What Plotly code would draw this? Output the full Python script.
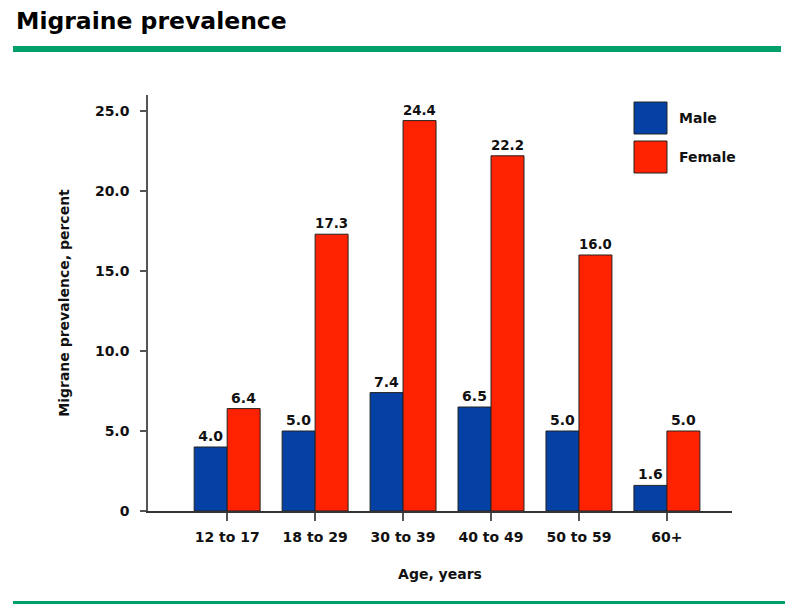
import plotly.graph_objects as go

categories = ["12 to 17", "18 to 29", "30 to 39", "40 to 49", "50 to 59", "60+"]
male = [4.0, 5.0, 7.4, 6.5, 5.0, 1.6]
female = [6.4, 17.3, 24.4, 22.2, 16.0, 5.0]
y_ticks = [0, 5, 10, 15, 20, 25]
y_tick_labels = ["0", "5.0", "10.0", "15.0", "20.0", "25.0"]

BLUE = "#0540A5"
RED = "#FF2200"
GREEN = "#009F6B"
FONT = "DejaVu Sans"
FS = 14

# page has an 8px body margin; build figure in screen coordinates
OFF = 8
PL, PR, PT, PB = 148, 732, 95, 511  # plot area in screen px

fig = go.Figure()
x_idx = list(range(len(categories)))
for name, vals, col in [("Male", male, BLUE), ("Female", female, RED)]:
    fig.add_trace(go.Bar(x=x_idx, y=vals, name=name,
                         marker=dict(color=col, line=dict(color="#222", width=1)),
                         texttemplate="<b>%{y:.1f}</b>", textposition="outside", cliponaxis=False,
                         textfont=dict(family=FONT, size=FS, color="#111")))

fig.update_layout(
    width=800 - OFF, height=616 - OFF,
    margin=dict(l=PL - OFF, r=800 - PR, t=PT - OFF, b=616 - PB),
    paper_bgcolor="white", plot_bgcolor="white",
    barmode="group", bargap=0.25, bargroupgap=0,
    showlegend=False,
    font=dict(family=FONT, size=FS, color="#111"),
    xaxis=dict(range=[-0.9, 5.74], tickvals=x_idx, ticktext=["<b>%s</b>" % c for c in categories],
               showline=True, linecolor="#333", linewidth=1.5,
               ticks="outside", ticklen=8, tickcolor="#555", tickwidth=1.5,
               ticklabelstandoff=4,
               showgrid=False, zeroline=False,
               tickfont=dict(family=FONT, size=FS, color="#111"),
               title=dict(text="<b>Age, years</b>", font=dict(family=FONT, size=FS, color="#111"), standoff=26)),
    yaxis=dict(range=[0, 26], tickvals=y_ticks, ticktext=["<b>%s</b>" % t for t in y_tick_labels],
               showline=True, linecolor="#555", linewidth=1.5,
               ticks="outside", ticklen=6, tickcolor="#555", tickwidth=1.5,
               ticklabelstandoff=8,
               showgrid=False, zeroline=False,
               tickfont=dict(family=FONT, size=FS, color="#111"),
               title=dict(text="<b>Migrane prevalence, percent</b>", font=dict(family=FONT, size=FS, color="#111"), standoff=22)),
)

def px_x(px):
    return (px - PL) / (PR - PL)

def px_y(py):
    return (PB - py) / (PB - PT)

# Title and green rules
fig.add_annotation(text="<b>Migraine prevalence</b>", xref="paper", yref="paper",
                   x=px_x(14), y=px_y(21), xanchor="left", yanchor="middle",
                   showarrow=False, font=dict(family=FONT, size=23.5, color="#000"))

fig.add_shape(type="rect", xref="paper", yref="paper", x0=px_x(13), x1=px_x(781), y0=px_y(46), y1=px_y(52),
              fillcolor=GREEN, line=dict(width=0))
fig.add_shape(type="rect", xref="paper", yref="paper", x0=px_x(13), x1=px_x(785), y0=px_y(601), y1=px_y(604),
              fillcolor=GREEN, line=dict(width=0))

# Legend
for i, (name, col) in enumerate([("Male", BLUE), ("Female", RED)]):
    top = 102 + i * 39
    fig.add_shape(type="rect", xref="paper", yref="paper", x0=px_x(634), x1=px_x(667),
                  y0=px_y(top + 32), y1=px_y(top), fillcolor=col, line=dict(color="#222", width=1))
    fig.add_annotation(text="<b>%s</b>" % name, xref="paper", yref="paper", x=px_x(677), y=px_y(top + 16),
                       xanchor="left", yanchor="middle", showarrow=False,
                       font=dict(family=FONT, size=FS, color="#111"))

fig.write_html("out.html")
